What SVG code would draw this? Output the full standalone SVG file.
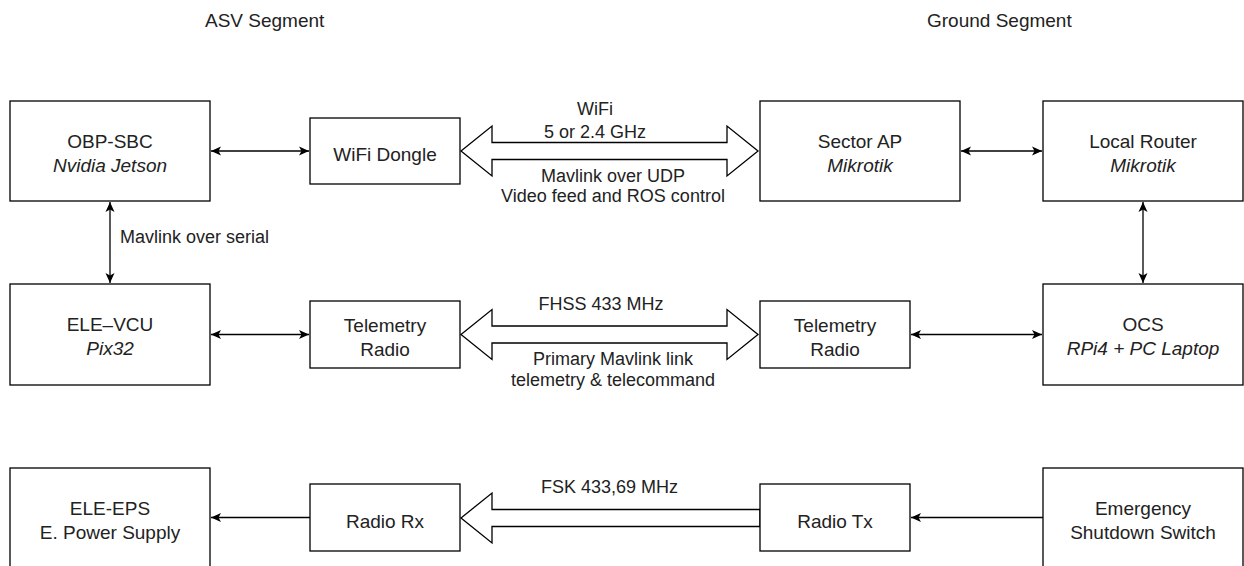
<svg xmlns="http://www.w3.org/2000/svg" width="1244" height="566" viewBox="0 0 1244 566">
<style>
.box{fill:#fff;stroke:#000;stroke-width:1.3}
.t{font-family:"Liberation Sans",Arial,sans-serif;font-size:19px;fill:#222;text-anchor:middle}
.i{font-style:italic}
.l{font-family:"Liberation Sans",Arial,sans-serif;font-size:18px;fill:#222;text-anchor:middle}
.h{font-family:"Liberation Sans",Arial,sans-serif;font-size:19px;fill:#222}
.c{fill:none;stroke:#000;stroke-width:1.3}
.big{fill:#fff;stroke:#000;stroke-width:1.3;stroke-linejoin:miter}
</style>
<defs>
<marker id="arr" viewBox="0 0 10 10" refX="10" refY="5" markerWidth="10" markerHeight="10" markerUnits="userSpaceOnUse" orient="auto-start-reverse">
<path d="M0,0.5 L10,5 L0,9.5 L2.5,5 z" fill="#000"/>
</marker>
</defs>
<rect width="1244" height="566" fill="#fff"/>
<text class="h" x="205" y="26.5">ASV Segment</text>
<text class="h" x="927" y="26.5">Ground Segment</text>

<g id="connectors">
<path class="c" d="M211,151 H309" marker-start="url(#arr)" marker-end="url(#arr)"/>
<path class="c" d="M961,151 H1042" marker-start="url(#arr)" marker-end="url(#arr)"/>
<path class="c" d="M110,202 V283" marker-start="url(#arr)" marker-end="url(#arr)"/>
<path class="c" d="M1143,202 V283" marker-start="url(#arr)" marker-end="url(#arr)"/>
<path class="c" d="M211,334.5 H309" marker-start="url(#arr)" marker-end="url(#arr)"/>
<path class="c" d="M911,334.5 H1042" marker-start="url(#arr)" marker-end="url(#arr)"/>
<path class="c" d="M310,517.5 H211" marker-end="url(#arr)"/>
<path class="c" d="M1043,517.5 H911" marker-end="url(#arr)"/>
<polygon class="big" points="461,151 492,126 492,142.5 727,142.5 727,126 758,151 727,176 727,159.5 492,159.5 492,176"/>
<polygon class="big" points="461,334.5 492,309.5 492,326 727,326 727,309.5 758,334.5 727,359.5 727,343 492,343 492,359.5"/>
<polygon class="big" points="461,518 492,493 492,509.5 760,509.5 760,526.5 492,526.5 492,543"/>
<text class="l" x="595" y="115">WiFi</text>
<text class="l" x="595" y="137.5">5 or 2.4 GHz</text>
<text class="l" x="613" y="181.5">Mavlink over UDP</text>
<text class="l" x="613" y="201.5">Video feed and ROS control</text>
<text class="l" x="601" y="310">FHSS 433 MHz</text>
<text class="l" x="613" y="365">Primary Mavlink link</text>
<text class="l" x="613" y="386">telemetry &amp; telecommand</text>
<text class="l" x="609.5" y="493">FSK 433,69 MHz</text>
<text class="l" x="120" y="243" style="text-anchor:start">Mavlink over serial</text>
</g>

<g id="obp-sbc"><rect class="box" x="10" y="101" width="200" height="100"/><text class="t" x="110" y="147.5">OBP-SBC</text><text class="t i" x="110" y="171.5">Nvidia Jetson</text></g>
<g id="wifi-dongle"><rect class="box" x="310" y="118" width="150" height="66"/><text class="t" x="385" y="160.5">WiFi Dongle</text></g>
<g id="sector-ap"><rect class="box" x="760" y="101" width="200" height="100"/><text class="t" x="860" y="147.5">Sector AP</text><text class="t i" x="860" y="171.5">Mikrotik</text></g>
<g id="local-router"><rect class="box" x="1043" y="101" width="200" height="100"/><text class="t" x="1143" y="147.5">Local Router</text><text class="t i" x="1143" y="171.5">Mikrotik</text></g>

<g id="ele-vcu"><rect class="box" x="10" y="284" width="200" height="101"/><text class="t" x="110" y="331">ELE–VCU</text><text class="t i" x="110" y="355">Pix32</text></g>
<g id="telemetry-radio-asv"><rect class="box" x="310" y="301" width="150" height="67"/><text class="t" x="385" y="332">Telemetry</text><text class="t" x="385" y="356">Radio</text></g>
<g id="telemetry-radio-ground"><rect class="box" x="760" y="301" width="150" height="67"/><text class="t" x="835" y="332">Telemetry</text><text class="t" x="835" y="356">Radio</text></g>
<g id="ocs"><rect class="box" x="1043" y="284" width="200" height="101"/><text class="t" x="1143" y="331">OCS</text><text class="t i" x="1143" y="355">RPi4 + PC Laptop</text></g>

<g id="ele-eps"><rect class="box" x="10" y="468" width="200" height="100"/><text class="t" x="110" y="514.5">ELE-EPS</text><text class="t" x="110" y="538.5">E. Power Supply</text></g>
<g id="radio-rx"><rect class="box" x="310" y="484" width="150" height="67"/><text class="t" x="385" y="527.5">Radio Rx</text></g>
<g id="radio-tx"><rect class="box" x="760" y="484" width="150" height="67"/><text class="t" x="835" y="527.5">Radio Tx</text></g>
<g id="emergency-switch"><rect class="box" x="1043" y="468" width="200" height="100"/><text class="t" x="1143" y="514.5">Emergency</text><text class="t" x="1143" y="538.5">Shutdown Switch</text></g>
</svg>
